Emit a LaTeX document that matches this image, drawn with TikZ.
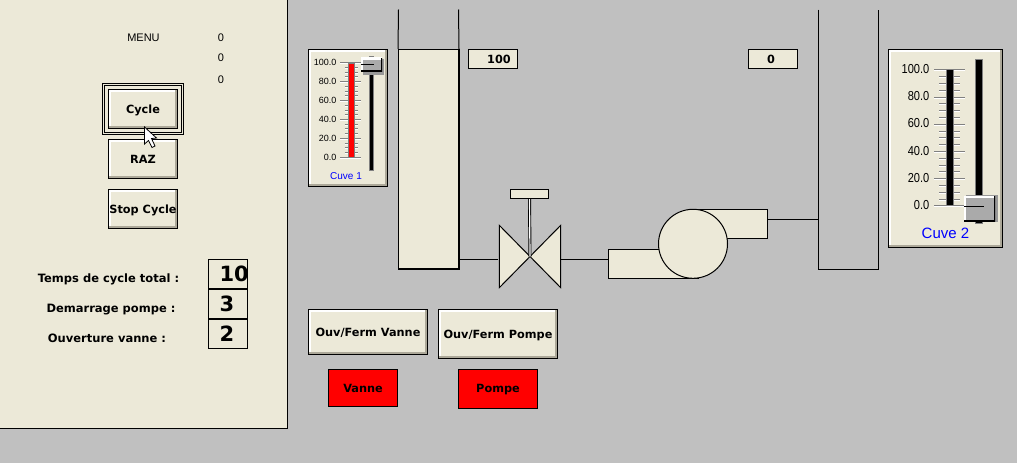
\documentclass[tikz,border=0pt]{standalone}
\usepackage{fontspec}
\setmainfont{Liberation Sans}
\newfontfamily\boldface{DejaVu Sans Bold}
\usepackage{tikz}
\usetikzlibrary{positioning}
\definecolor{dfpanel}{RGB}{236,233,216}
\definecolor{dfback}{RGB}{192,192,192}
\definecolor{dfedge}{RGB}{172,168,153}
\definecolor{dfthumb}{RGB}{170,170,170}
\definecolor{dfshade}{RGB}{135,135,135}
\definecolor{dftick}{RGB}{128,128,128}
\tikzstyle{bevel} = [path picture={
  \draw[white,line width=4pt] (path picture bounding box.south west) |- (path picture bounding box.north east);
  \draw[dfedge,line width=5pt] (path picture bounding box.south west) -| (path picture bounding box.north east);}]
\tikzstyle{button} = [rectangle, draw=black, fill=dfpanel, line width=1pt, inner sep=0pt, bevel, text height=9pt, text depth=0pt, font=\boldface\fontsize{11.3}{12}\selectfont]
\tikzstyle{display} = [rectangle, draw=black, fill=dfpanel, line width=1pt, inner sep=0pt, minimum width=49pt, minimum height=19pt, text height=9pt, text depth=0pt, font=\boldface\fontsize{11.3}{12}\selectfont]
\tikzstyle{numbox} = [rectangle, draw=black, fill=dfpanel, line width=1pt, inner sep=0pt, minimum width=39pt, minimum height=29.5pt, font=\boldface\fontsize{21}{24}\selectfont]
\tikzstyle{lamp} = [rectangle, draw=black, fill=red, line width=1pt, inner sep=0pt, minimum height=37pt, text height=9pt, text depth=0pt, font=\boldface\fontsize{11.3}{12}\selectfont]
\tikzstyle{caption} = [inner sep=0pt, text height=9pt, text depth=0pt, font=\boldface\fontsize{11.5}{12}\selectfont]
\tikzstyle{plain} = [inner sep=0pt, font=\fontsize{11}{13}\selectfont]
\tikzstyle{equip} = [draw=black, fill=dfpanel, line width=1pt, inner sep=0pt]
\tikzstyle{pipe} = [black, line width=1pt]
\tikzstyle{thumb} = [rectangle, fill=dfthumb, inner sep=0pt, path picture={
  \draw[white,line width=4pt] (path picture bounding box.south west) |- (path picture bounding box.north east);
  \draw[black,line width=3pt] (path picture bounding box.south west) -| (path picture bounding box.north east);}]
\newcommand{\numval}[1]{\makebox[37pt][l]{\hspace{10pt}#1}}
\begin{document}
\begin{tikzpicture}[x=1pt,y=-1pt]
\useasboundingbox (0,0) rectangle (1017,463);
\fill[dfback] (0,0) rectangle (1017,463);

% Left panel
\fill[dfpanel] (0,0) rectangle (287.5,428.5);
\draw[pipe] (287.5,0) |- (0,428.5);
\node (menu) [plain] at (143.5,37.5) {MENU};
\node (val1) [plain] at (221,37.5) {0};
\node (val2) [plain] at (221,57.5) {0};
\node (val3) [plain] at (221,79.5) {0};

% Cycle buttons
\node (frame) [rectangle, draw=black, fill=dfpanel, line width=1pt, double=dfpanel, double distance=1pt, minimum width=79pt, minimum height=49pt] at (143,109) {};
\node (cycle) [button, minimum width=69pt, minimum height=39pt] at (143,109) {Cycle};
\node (raz) [button, minimum width=69pt, minimum height=39pt, below of=cycle, node distance=50pt] {RAZ};
\node (stop) [button, minimum width=69pt, minimum height=39pt, below of=raz, node distance=50pt] {Stop Cycle};

% Times
\node (ttotal) [numbox] at (228,274) {\numval{10}};
\node (tpompe) [numbox, below of=ttotal, node distance=30pt] {\numval{3}};
\node (tvanne) [numbox, below of=tpompe, node distance=30pt] {\numval{2}};
\node (ltotal) [caption] at (108.5,277.5) {Temps de cycle total :};
\node (lpompe) [caption] at (111,307.5) {Demarrage pompe :};
\node (lvanne) [caption] at (107,337.5) {Ouverture vanne :};

% Cursor
\draw[fill=white, draw=black, line width=0.8pt] (144.5,127) -- (144.5,144) -- (148.5,140.5) -- (152,147.5) -- (155,146) -- (151.5,138.5) -- (156.5,138) -- cycle;

% Gauge 1
\node (gauge1) [button, minimum width=79pt, minimum height=136.5pt] at (348,117.75) {};
\foreach \i in {0,...,20}
  \draw[white] (344.5,63.5+\i*4.725) -- (358,63.5+\i*4.725);
\foreach \i in {0,...,20}
  \draw[dftick] (344.5,62.5+\i*4.725) -- (358,62.5+\i*4.725);
\foreach \v/\y in {100.0/62.5,80.0/81.4,60.0/100.3,40.0/119.2,20.0/138.1,0.0/157} {
  \draw[white] (340,\y+1) -- (361,\y+1);
  \draw[dftick] (340,\y) -- (361,\y);
  \node (g1\v) [inner sep=0pt, anchor=east, font=\fontsize{9}{10}\selectfont] at (336.5,\y) {\v};
}
\fill[red, draw=dftick, line width=0.6pt] (348.3,63) rectangle (354.2,157.5);
\fill[black, draw=dftick] (369.5,56) rectangle (373,170);
\fill[dfshade!70!dfback] (363,59) rectangle (384,74.5);
\node (thumb1) [thumb, minimum width=21pt, minimum height=14pt] at (371.5,64.5) {};
\draw[black] (361,64) -- (374,64);
\node (name1) [inner sep=0pt, text=blue, font=\fontsize{10}{12}\selectfont] at (346,176) {Cuve 1};

% Tank 1
\node (cuve1) [equip, minimum width=60pt, minimum height=218.5pt] at (428.5,158.75) {};
\coordinate (c1l) at (398.5,9.5);
\coordinate (c1r) at (458.5,9.5);
\draw[pipe] (c1l) -- (cuve1.north west);
\draw[pipe] (c1r) -- (cuve1.north east);
\draw[black, line width=2pt] (cuve1.south west) -- (cuve1.south east) -- (cuve1.north east);
\node (disp1) [display] at (493,59) {\hspace{12pt}100};

% Valve
\node (valve) [inner sep=0pt, minimum width=61pt, minimum height=62pt] at (530,256.5) {};
\draw[equip] (valve.north west) -- (valve.south east) -- (valve.north east) -- (valve.south west) -- cycle;
\node (handle) [equip, minimum width=38pt, minimum height=9pt] at (529.5,194) {};
\draw[black, line width=3pt] (handle.south) -- (valve.center);
\draw[white, line width=1.2pt] (handle.south) -- (valve.center);
\coordinate (vin) at (498,259.5);
\coordinate (vout) at (560.5,259.5);
\draw[pipe] (vin -| cuve1.east) -- (vin);

% Pump
\node (pumpin) [equip, minimum width=89.5pt, minimum height=29pt] at (653.25,264) {};
\node (pumpout) [equip, minimum width=74.5pt, minimum height=29pt] at (730.25,224) {};
\node (pump) [equip, circle, minimum size=69pt] at (693,243.8) {};
\draw[pipe] (vout) -- (vout -| pumpin.west);

% Tank 2
\coordinate (c2l) at (818.5,9.5);
\coordinate (c2r) at (878.5,9.5);
\coordinate (c2b) at (878.5,269);
\draw[pipe] (c2l) |- (c2b) -- (c2r);
\coordinate (c2in) at (818.5,219.5);
\draw[pipe] (c2in -| pumpout.east) -- (c2in);
\node (disp2) [display] at (773,59) {\hspace{-4pt}0};

% Gauge 2
\node (gauge2) [button, minimum width=114pt, minimum height=197.5pt] at (945.5,148.25) {};
\foreach \i in {0,...,20}
  \draw[white] (939,70.5+\i*6.8) -- (960,70.5+\i*6.8);
\foreach \i in {0,...,20}
  \draw[dftick] (939,69.5+\i*6.8) -- (960,69.5+\i*6.8);
\foreach \v/\y in {100.0/69.5,80.0/96.7,60.0/123.9,40.0/151.1,20.0/178.3,0.0/205.5} {
  \draw[white] (934,\y+1) -- (965,\y+1);
  \draw[dftick] (934,\y) -- (965,\y);
  \node (g2\v) [inner sep=0pt, anchor=east, font=\fontsize{13}{15}\selectfont] at (929.5,\y-0.5) {\scalebox{0.85}[1]{\v}};
}
\fill[black, draw=dftick] (946.5,69.5) rectangle (953.5,205.5);
\fill[black, draw=dftick] (975.5,59.5) rectangle (982,223.5);
\fill[dfshade!70!dfback] (966,195) rectangle (998,222);
\node (thumb2) [thumb, minimum width=31pt, minimum height=25pt] at (979.5,208.5) {};
\draw[black] (964,206) -- (984,206);
\node (name2) [inner sep=0pt, text=blue, font=\fontsize{15}{17}\selectfont] at (945.5,233) {Cuve 2};

% Bottom buttons
\node (bvanne) [button, minimum width=119pt, minimum height=45pt] at (368,332) {Ouv/Ferm Vanne};
\node (bpompe) [button, minimum width=119pt, minimum height=49pt] at (498,334) {Ouv/Ferm Pompe};
\node (lvan) [lamp, minimum width=69pt] at (363,388) {Vanne};
\node (lpom) [lamp, minimum width=79pt, minimum height=39pt, text height=7pt] at (498,389) {Pompe};
\end{tikzpicture}
\end{document}
